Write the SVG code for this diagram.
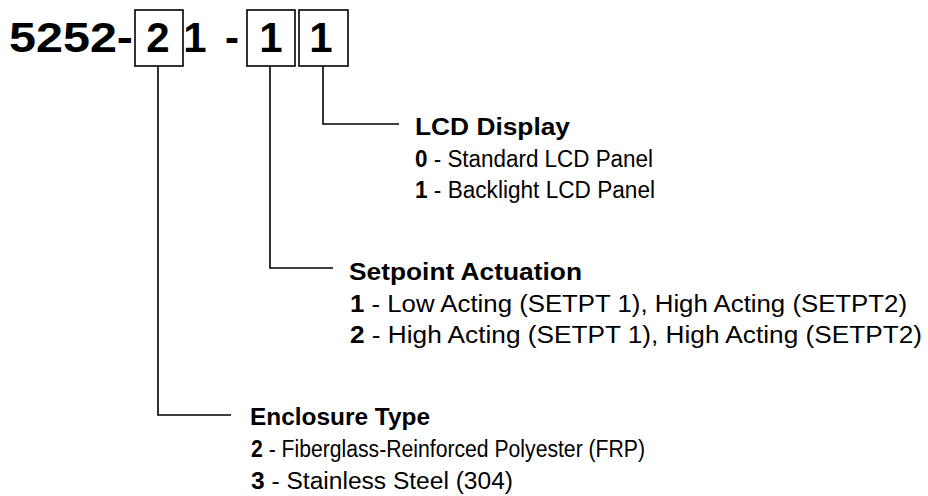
<svg xmlns="http://www.w3.org/2000/svg" width="928" height="496" viewBox="0 0 928 496">
<style>
.hd{font-family:"Liberation Sans",Arial,sans-serif;font-weight:bold;font-size:42px;fill:#000}
.ttl{font-family:"Liberation Sans",Arial,sans-serif;font-weight:bold;font-size:23.5px;fill:#000}
.opt{font-family:"Liberation Sans",Arial,sans-serif;font-size:23.5px;fill:#000}
.b{font-weight:bold}
.box{fill:#fff;stroke:#000;stroke-width:1.6}
.ln{fill:none;stroke:#000;stroke-width:1.6}
</style>
<rect width="928" height="496" fill="#fff"/>
<g id="code">
<text class="hd" x="9" y="52" textLength="124" lengthAdjust="spacingAndGlyphs">5252-</text>
<rect class="box" x="135" y="10" width="48" height="56"/>
<text class="hd" x="158" y="52" text-anchor="middle">2</text>
<text class="hd" x="195" y="52" text-anchor="middle">1</text>
<text class="hd" x="232" y="52" text-anchor="middle">-</text>
<rect class="box" x="247" y="10" width="48" height="56"/>
<text class="hd" x="271" y="52" text-anchor="middle">1</text>
<rect class="box" x="299" y="10" width="49" height="56"/>
<text class="hd" x="321" y="52" text-anchor="middle">1</text>
</g>
<g id="connectors">
<polyline class="ln" points="323,66 323,124 399,124"/>
<polyline class="ln" points="270,66 270,268 333,268"/>
<polyline class="ln" points="158,66 158,415 231,415"/>
</g>
<g id="lcd">
<text class="ttl" x="415" y="135" textLength="155" lengthAdjust="spacingAndGlyphs">LCD Display</text>
<text class="opt" x="415" y="167" textLength="238" lengthAdjust="spacingAndGlyphs"><tspan class="b">0</tspan> -  Standard LCD Panel</text>
<text class="opt" x="415" y="198" textLength="240" lengthAdjust="spacingAndGlyphs"><tspan class="b">1</tspan> - Backlight LCD Panel</text>
</g>
<g id="setpoint">
<text class="ttl" x="349" y="280" textLength="233" lengthAdjust="spacingAndGlyphs">Setpoint Actuation</text>
<text class="opt" x="350" y="312" textLength="557" lengthAdjust="spacingAndGlyphs"><tspan class="b">1</tspan> - Low Acting (SETPT 1), High Acting (SETPT2)</text>
<text class="opt" x="350" y="343" textLength="572" lengthAdjust="spacingAndGlyphs"><tspan class="b">2</tspan> - High Acting (SETPT 1), High Acting (SETPT2)</text>
</g>
<g id="enclosure">
<text class="ttl" x="250" y="425" textLength="180" lengthAdjust="spacingAndGlyphs">Enclosure Type</text>
<text class="opt" x="251" y="457" textLength="394" lengthAdjust="spacingAndGlyphs"><tspan class="b">2</tspan> - Fiberglass-Reinforced Polyester (FRP)</text>
<text class="opt" x="251" y="489" textLength="262" lengthAdjust="spacingAndGlyphs"><tspan class="b">3</tspan> - Stainless Steel (304)</text>
</g>
</svg>
